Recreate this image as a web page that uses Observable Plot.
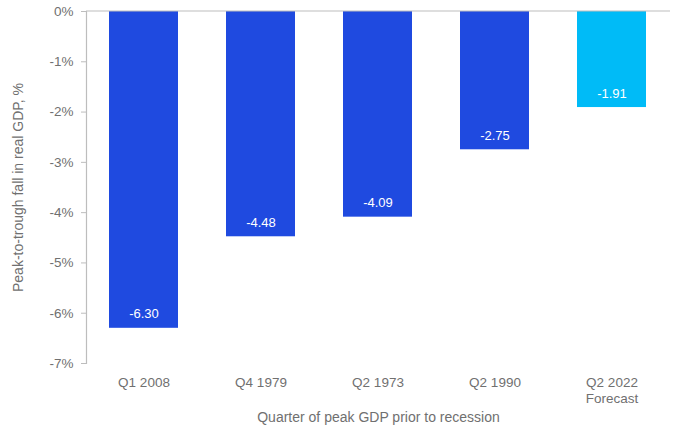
<!DOCTYPE html>
<html>
<head>
<meta charset="utf-8">
<script src="https://cdn.jsdelivr.net/npm/d3@7"></script>
<script src="https://cdn.jsdelivr.net/npm/@observablehq/plot@0.6"></script>
<style>
  html, body { margin: 0; padding: 0; background: #fff; }
  #chart svg { display: block; }
</style>
</head>
<body>
<div id="chart"></div>
<script>
// Peak-to-trough fall in real GDP by recession
const quarters = ["Q1 2008", "Q4 1979", "Q2 1973", "Q2 1990", "Q2 2022"];
const tickLabels = ["Q1 2008", "Q4 1979", "Q2 1973", "Q2 1990", "Q2 2022\nForecast"];
const falls = [-6.30, -4.48, -4.09, -2.75, -1.91];
const kinds = ["Actual", "Actual", "Actual", "Actual", "Forecast"];
const yTicks = [0, -1, -2, -3, -4, -5, -6, -7];

const data = quarters.map((q, i) => ({quarter: q, fall: falls[i], kind: kinds[i]}));
const labelOf = new Map(quarters.map((q, i) => [q, tickLabels[i]]));

const font = "'Liberation Sans', Arial, sans-serif";
const grey = "#707070";
const axisGrey = "#bdbdbd";

const chart = Plot.plot({
  width: 676,
  height: 430,
  marginTop: 11,
  marginLeft: 86,
  marginRight: 6,
  marginBottom: 67,
  style: {fontFamily: font, fontSize: "13.5px", color: grey, background: "#fff"},
  x: {domain: quarters, paddingInner: 0.41, paddingOuter: 0.19, label: null},
  y: {domain: [-7, 0], label: null},
  color: {domain: ["Actual", "Forecast"], range: ["#1f4ae0", "#00bbf7"]},
  marks: [
    Plot.barY(data, {x: "quarter", y: "fall", fill: "kind"}),
    Plot.ruleY([0], {stroke: axisGrey, strokeWidth: 1.2, dy: -0.5}),
    Plot.frame({anchor: "left", stroke: axisGrey, strokeWidth: 1.2}),
    Plot.axisY({
      ticks: yTicks,
      tickSize: 5,
      tickPadding: 8,
      stroke: axisGrey,
      fill: grey,
      tickFormat: d => `${d === 0 ? 0 : "-" + Math.abs(d)}%`,
      label: null
    }),
    Plot.axisX({
      tickSize: 0,
      tickPadding: 12,
      lineHeight: 1.2,
      fill: grey,
      tickFormat: d => labelOf.get(d),
      label: null
    }),
    Plot.text(data, {
      x: "quarter",
      y: "fall",
      text: d => d.fall.toFixed(2).replace("−", "-"),
      dy: -14,
      fill: "#fff",
      fontSize: 13
    }),
    Plot.text(["Peak-to-trough fall in real GDP, %"], {
      frameAnchor: "left",
      textAnchor: "middle",
      rotate: -90,
      dx: -68,
      fill: grey,
      fontSize: 14
    }),
    Plot.text(["Quarter of peak GDP prior to recession"], {
      frameAnchor: "bottom",
      dy: 58,
      fill: grey,
      fontSize: 14
    })
  ]
});

document.getElementById("chart").append(chart);
</script>
</body>
</html>
